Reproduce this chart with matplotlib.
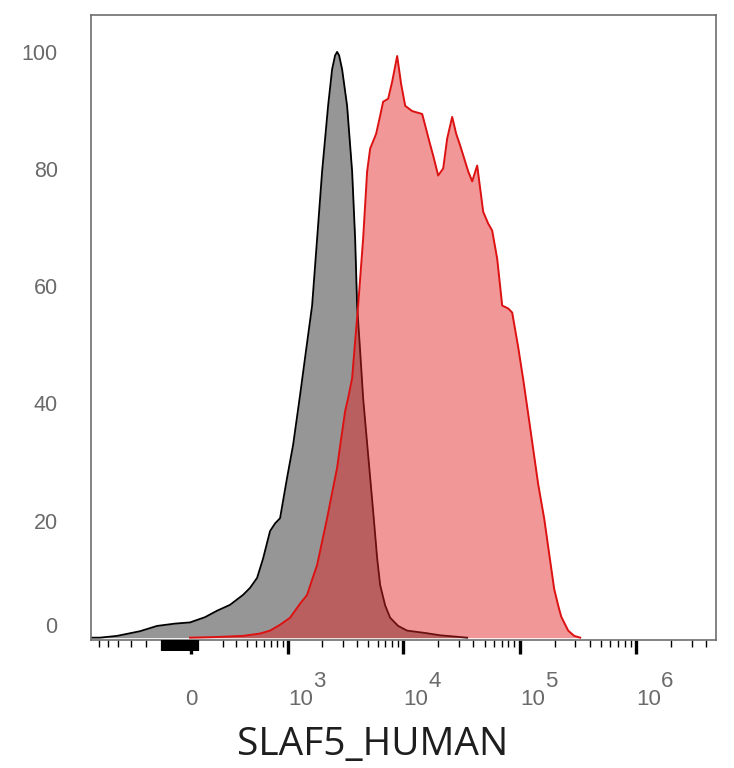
import matplotlib
matplotlib.use("Agg")
import matplotlib.pyplot as plt

# isotype control histogram (grey)
iso_x = [-1062, -882, -612, -356, -217, -96, -6, 84, 161, 254, 365, 434, 512,
         586, 683, 760, 845, 978, 1107, 1276, 1442, 1628, 1800, 1990, 2243,
         2428, 2579, 2684, 2794, 2966, 3274, 3618, 3841, 3995, 4242, 4501,
         4970, 5489, 5941, 6305, 6964, 7690, 9012, 10760, 15380, 20710, 35320]
iso_y = [0, 0, 0.3, 1.1, 2.0, 2.4, 2.6, 3.5, 4.6, 5.6, 7.3, 8.5, 10.2,
         13.5, 18.2, 19.5, 20.4, 27.3, 32.9, 41.4, 49.1, 56.7, 68.1, 79.6, 90.8,
         97.0, 99.4, 100, 99.4, 97.0, 90.8, 79.6, 68.1, 56.7, 48.9, 40.9,
         31.2, 21.6, 13.6, 9.0, 5.5, 3.4, 2.0, 1.2, 0.8, 0.4, 0]

# SLAF5 stained histogram (red)
slaf_x = [-6, 147, 365, 548, 683, 845, 1040, 1276, 1472, 1628, 1800, 1990,
          2199, 2428, 2684, 2906, 3151, 3342, 3618, 3841, 4076, 4501, 4873,
          5175, 5823, 6305, 6694, 7392, 7998, 8833, 9560, 10354, 11882, 13393,
          14492, 15081, 16655, 18020, 19898, 21965, 23770, 26252, 28435, 30770,
          33300, 36040, 38995, 43060, 48500, 53530, 57930, 63970, 70620, 79540,
          86080, 96930, 107040, 118160, 130420, 143980, 162270, 179040, 197640,
          213930, 227080, 260850, 293770, 330800]
slaf_y = [0, 0.1, 0.3, 0.7, 1.2, 2.2, 3.4, 5.8, 7.3, 9.9, 12.4, 16.4,
          20.4, 24.7, 29.0, 33.9, 38.7, 40.9, 44.3, 50.6, 56.7, 68.1, 79.6,
          83.5, 86.0, 89.1, 91.5, 92.0, 94.9, 99.3, 94.5, 90.8, 89.9, 89.6,
          89.4, 88.1, 84.8, 82.3, 78.9, 80.1, 85.2, 88.9, 86.0, 84.0,
          81.8, 79.6, 77.9, 80.6, 72.7, 70.7, 69.5, 64.7, 56.7, 56.2,
          55.5, 49.6, 44.1, 38.2, 32.2, 26.2, 20.3, 14.3, 8.3,
          5.5, 3.6, 1.2, 0.3, 0]

y_ticks = [0, 20, 40, 60, 80, 100]
x_major = [0, 1e3, 1e4, 1e5, 1e6]
x_exponents = ["", "3", "4", "5", "6"]
x_minor = ([-900, -750, -600, -450, -300]
           + [m * 10 ** k for k in (2, 3, 4, 5, 6) for m in range(2, 10)
              if m * 10 ** k < 4.8e6])
x_near_zero = list(range(-180, 50, 10))
x_label = "SLAF5_HUMAN"

x_lim = (-1062, 4.86e6)
lin_width = 299

fig = plt.figure(figsize=(7.34, 7.68), dpi=100)
ax = fig.add_axes([91 / 734, 1 - 640 / 768, 625 / 734, 625 / 768])
ax.set_xscale("asinh", linear_width=lin_width)

# grey control, then translucent red on top
ax.fill_between(iso_x, iso_y, 0, color="#969696", lw=0, zorder=1)
ax.plot(iso_x, iso_y, color="black", lw=1.3, zorder=2)
ax.fill_between(slaf_x, slaf_y, 0, color="#e32222", alpha=0.47, lw=0,
                zorder=3)
ax.plot(slaf_x, slaf_y, color="#dd1111", lw=1.4, zorder=4)

ax.set_xlim(*x_lim)
ax.set_ylim(-0.4, 106.3)

for s in ax.spines.values():
    s.set_color("#6e6e6e")
    s.set_linewidth(1.2)

# y axis
ax.set_yticks(y_ticks)
ax.set_yticklabels([str(v) for v in y_ticks], family="Liberation Sans",
                   fontsize=15.5, color="#6a6a6a")
ax.tick_params(axis="y", length=0, pad=24)
ax.get_yticklabels()[0].set_verticalalignment("bottom")

# x axis ticks
ax.set_xticks(x_major)
ax.set_xticks(x_minor, minor=True)
ax.set_xticklabels([])
ax.tick_params(axis="x", which="major", length=10, width=2.4, color="black",
               direction="out")
ax.tick_params(axis="x", which="minor", length=5, width=1.0, color="black",
               direction="out")

# dense block of ticks around zero, on a twin axis with the same scale
ax2 = ax.twiny()
ax2.set_xscale("asinh", linear_width=lin_width)
ax2.set_xlim(*x_lim)
ax2.xaxis.set_ticks_position("bottom")
ax2.set_xticks(x_near_zero)
ax2.set_xticks([], minor=True)
ax2.set_xticklabels([])
ax2.tick_params(axis="x", which="major", length=8, width=1.6, color="black")
for s in ax2.spines.values():
    s.set_visible(False)

# tick labels: 0, 10^3 ... with full-size superscript
lab_kw = dict(xycoords=("data", "axes fraction"), textcoords="offset points",
              va="center", fontsize=16, family="Liberation Sans",
              color="#6a6a6a")
for val, exp in zip(x_major, x_exponents):
    if exp == "":
        ax.annotate("0", xy=(val, 0), xytext=(0, -43), ha="center", **lab_kw)
    else:
        ax.annotate("10", xy=(val, 0), xytext=(0, -43), ha="left", **lab_kw)
        ax.annotate(exp, xy=(val, 0), xytext=(18, -30), ha="left", **lab_kw)

fig.text(373 / 734, 1 - 745 / 768, x_label, ha="center", va="center",
         fontsize=28, family="Open Sans", color="#1e1e1e")

fig.savefig("out.png", dpi=100)
